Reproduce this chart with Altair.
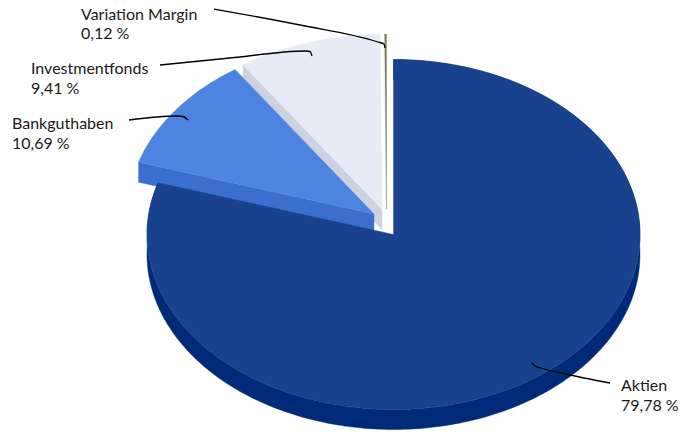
import math
import altair as alt
import pandas as pd

# Data
categories = ["Aktien", "Bankguthaben", "Investmentfonds", "Variation Margin"]
shares = [79.78, 10.69, 9.41, 0.12]
share_labels = ["79,78 %", "10,69 %", "9,41 %", "0,12 %"]

# Layout of the pseudo-3D pie, expressed in the image's pixel coordinates
CX, CY, RX, RY, DEPTH = 393.5, 234.5, 246.5, 175.0, 20.0
explode = {"Aktien": (0, 0), "Bankguthaben": (-19.5, -20.5), "Investmentfonds": (-11.5, -25), "Variation Margin": (-7, -25.5)}
top_col = {"Aktien": "#18428e", "Bankguthaben": "#4d83e1", "Investmentfonds": "#e6ebf6", "Variation Margin": "#7d7b66"}
wall_col = {"Aktien": "#002a78", "Bankguthaben": "#3a6fcf", "Investmentfonds": "#cdd2de"}

label_pos = {"Aktien": (621, 386), "Bankguthaben": (12, 124), "Investmentfonds": (31, 69), "Variation Margin": (81, 15)}
label_gap = {"Aktien": 20, "Bankguthaben": 20, "Investmentfonds": 20, "Variation Margin": 18.5}
leaders = {
    "Aktien": [(610, 383), (575, 376), (541, 368), (535, 366), (532, 363)],
    "Bankguthaben": [(129, 120), (177, 116), (183, 116.5), (188, 120)],
    "Investmentfonds": [(160, 65), (230, 58), (306, 51), (310, 51.5), (312, 56)],
    "Variation Margin": [(214, 9), (300, 25), (378, 42), (384, 44), (385, 48)],
}

X_DOM = [8, 682]
Y_DOM = [8, 432]
W, H = 674, 424


def pt(cat, deg, dy=0.0):
    ox, oy = explode[cat]
    a = math.radians(deg)
    return CX + ox + RX * math.sin(a), CY + oy - RY * math.cos(a) + dy


def poly(points, color):
    df = pd.DataFrame({"x": [p[0] for p in points], "y": [p[1] for p in points], "i": range(len(points))})
    return (
        alt.Chart(df)
        .mark_line(interpolate="linear-closed", fill=color, stroke=color, strokeWidth=0.4)
        .encode(
            x=alt.X("x:Q", scale=alt.Scale(domain=X_DOM), axis=None),
            y=alt.Y("y:Q", scale=alt.Scale(domain=Y_DOM, reverse=True), axis=None),
            order=alt.Order("i:Q"),
        )
    )


spans = {}
acc = 0.0
for c, s in zip(categories, shares):
    spans[c] = (acc * 3.6, (acc + s) * 3.6)
    acc += s


def arc(cat, a0, a1, dy=0.0):
    n = max(2, int(abs(a1 - a0)) + 2)
    return [pt(cat, a0 + (a1 - a0) * k / (n - 1), dy) for k in range(n)]


def top(cat):
    a0, a1 = spans[cat]
    return poly([(CX + explode[cat][0], CY + explode[cat][1])] + arc(cat, a0, a1), top_col[cat])


def edge_wall(cat):
    a0, _ = spans[cat]
    ax, ay = CX + explode[cat][0], CY + explode[cat][1]
    o = pt(cat, a0)
    return poly([o, (ax, ay), (ax, ay + DEPTH), (o[0], o[1] + DEPTH)], wall_col[cat])


def rim_wall(cat):
    a0, a1 = spans[cat]
    return poly(arc(cat, a0, a1) + arc(cat, a1, a0, DEPTH), wall_col[cat])


layers = [
    edge_wall("Investmentfonds"),
    top("Investmentfonds"),
    top("Variation Margin"),
    edge_wall("Bankguthaben"),
    top("Bankguthaben"),
    rim_wall("Aktien"),
    top("Aktien"),
]

for c in categories:
    pts = leaders[c]
    df = pd.DataFrame({"x": [p[0] for p in pts], "y": [p[1] for p in pts], "i": range(len(pts))})
    layers.append(
        alt.Chart(df)
        .mark_line(color="#000000", strokeWidth=1.3, interpolate="monotone")
        .encode(
            x=alt.X("x:Q", scale=alt.Scale(domain=X_DOM), axis=None),
            y=alt.Y("y:Q", scale=alt.Scale(domain=Y_DOM, reverse=True), axis=None),
            order=alt.Order("i:Q"),
        )
    )

rows = []
for c, lab in zip(categories, share_labels):
    x, y = label_pos[c]
    rows.append({"x": x, "y": y, "t": c})
    rows.append({"x": x, "y": y + label_gap[c], "t": lab})
layers.append(
    alt.Chart(pd.DataFrame(rows))
    .mark_text(align="left", baseline="middle", font="Lato", fontSize=16, color="#1a1a1a")
    .encode(
        x=alt.X("x:Q", scale=alt.Scale(domain=X_DOM), axis=None),
        y=alt.Y("y:Q", scale=alt.Scale(domain=Y_DOM, reverse=True), axis=None),
        text="t:N",
    )
)

chart = (
    alt.layer(*layers)
    .properties(width=W, height=H, padding=0, autosize=alt.AutoSizeParams(type="none"), background="white")
    .configure_view(stroke=None)
)
chart.save("out.html", embed_options={"renderer": "svg", "actions": False})
